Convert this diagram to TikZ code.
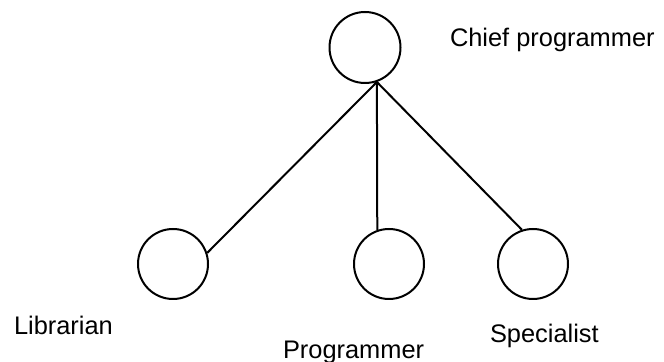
\documentclass[tikz,border=0pt]{standalone}
\usepackage{fontspec}
\setmainfont{Liberation Sans}

\begin{document}
\begin{tikzpicture}[x=0.5pt, y=-0.5pt, line width=1pt,
        main/.style = {draw, circle, inner sep=0pt, minimum size=35pt},
        lbl/.style = {anchor=base west, inner sep=0pt, font=\fontsize{12.7pt}{15pt}\selectfont}]
            \useasboundingbox (0,0) rectangle (664,362);

            \node[main,minimum size=35.5pt] (1) at (365,47.5) {};
            \node[main] (2) at (173,264) {};
            \node[main] (3) at (389,264) {};
            \node[main] (4) at (533,264) {};

            \node[lbl] (5) at (449,47) {Chief programmer};
            \node[lbl] (6) at (13,335) {Librarian};
            \node[lbl] (7) at (282,359) {Programmer};
            \node[lbl] (8) at (489,343) {Specialist};

            \draw (1.-71) -- (2.18);
            \draw (1.-71) -- (3.109);
            \draw (1.-71) -- (4.108);

        \end{tikzpicture}
\end{document}
